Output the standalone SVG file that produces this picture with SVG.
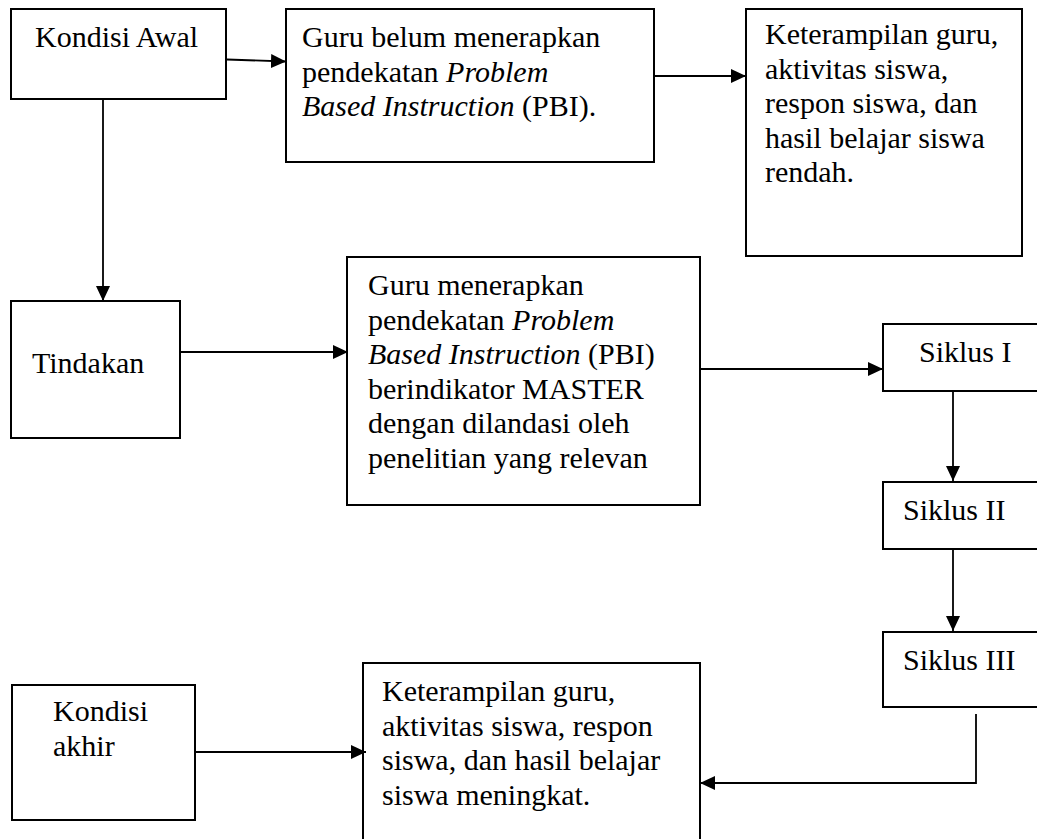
<svg xmlns="http://www.w3.org/2000/svg" width="1037" height="839" viewBox="0 0 1037 839">
<style>
.box{fill:#fff;stroke:#000;stroke-width:2}
.t{font-family:"Liberation Serif","Times New Roman",serif;font-size:30px;fill:#000}
.i{font-style:italic}
.c{fill:none;stroke:#000;stroke-width:1.8}
</style>
<defs>
<marker id="ah" markerUnits="userSpaceOnUse" markerWidth="16" markerHeight="14" refX="15" refY="7" orient="auto">
<path d="M0,0 L15,7 L0,14 z" fill="#000"/>
</marker>
</defs>
<rect width="1037" height="839" fill="#fff"/>
<g id="kondisi-awal">
<rect class="box" x="11" y="9" width="215" height="90"/>
<text class="t" x="35" y="47">Kondisi Awal</text>
</g>
<g id="guru-belum">
<rect class="box" x="286" y="9" width="368" height="153"/>
<text class="t" x="302" y="47">Guru belum menerapkan</text>
<text class="t" x="302" y="81.5">pendekatan <tspan class="i">Problem</tspan></text>
<text class="t" x="302" y="116"><tspan class="i">Based Instruction</tspan> (PBI).</text>
</g>
<g id="kondisi-rendah">
<rect class="box" x="746" y="9" width="276" height="247"/>
<text class="t" x="765" y="44">Keterampilan guru,</text>
<text class="t" x="765" y="78.5">aktivitas siswa,</text>
<text class="t" x="765" y="113">respon siswa, dan</text>
<text class="t" x="765" y="147.5">hasil belajar siswa</text>
<text class="t" x="765" y="182">rendah.</text>
</g>
<g id="tindakan">
<rect class="box" x="11" y="301" width="169" height="137"/>
<text class="t" x="32" y="373">Tindakan</text>
</g>
<g id="guru-menerapkan">
<rect class="box" x="347" y="257" width="353" height="248"/>
<text class="t" x="368" y="295">Guru menerapkan</text>
<text class="t" x="368" y="329.5">pendekatan <tspan class="i">Problem</tspan></text>
<text class="t" x="368" y="364"><tspan class="i">Based Instruction</tspan> (PBI)</text>
<text class="t" x="368" y="398.5">berindikator MASTER</text>
<text class="t" x="368" y="433">dengan dilandasi oleh</text>
<text class="t" x="368" y="467.5">penelitian yang relevan</text>
</g>
<g id="siklus-1">
<rect class="box" x="883" y="324" width="170" height="67"/>
<text class="t" x="919" y="362">Siklus I</text>
</g>
<g id="siklus-2">
<rect class="box" x="883" y="482" width="170" height="67"/>
<text class="t" x="903" y="520">Siklus II</text>
</g>
<g id="siklus-3">
<rect class="box" x="883" y="632" width="170" height="75"/>
<text class="t" x="903" y="670">Siklus III</text>
</g>
<g id="kondisi-akhir">
<rect class="box" x="12" y="685" width="183" height="135"/>
<text class="t" x="53" y="721">Kondisi</text>
<text class="t" x="53" y="756">akhir</text>
</g>
<g id="hasil-meningkat">
<rect class="box" x="363" y="663" width="337" height="200"/>
<text class="t" x="382" y="701">Keterampilan guru,</text>
<text class="t" x="382" y="735.5">aktivitas siswa, respon</text>
<text class="t" x="382" y="770">siswa, dan hasil belajar</text>
<text class="t" x="382" y="804.5">siswa meningkat.</text>
</g>
<g id="connectors">
<path class="c" d="M227,59.5 L286,61.5" marker-end="url(#ah)"/>
<path class="c" d="M654,76 H746" marker-end="url(#ah)"/>
<path class="c" d="M103,99 V301" marker-end="url(#ah)"/>
<path class="c" d="M180,352 H348" marker-end="url(#ah)"/>
<path class="c" d="M700,369 H883" marker-end="url(#ah)"/>
<path class="c" d="M953,391 V481" marker-end="url(#ah)"/>
<path class="c" d="M953,549 V631" marker-end="url(#ah)"/>
<path class="c" d="M976,714 V783 H700" marker-end="url(#ah)"/>
<path class="c" d="M195,752 H366" marker-end="url(#ah)"/>
</g>
</svg>
